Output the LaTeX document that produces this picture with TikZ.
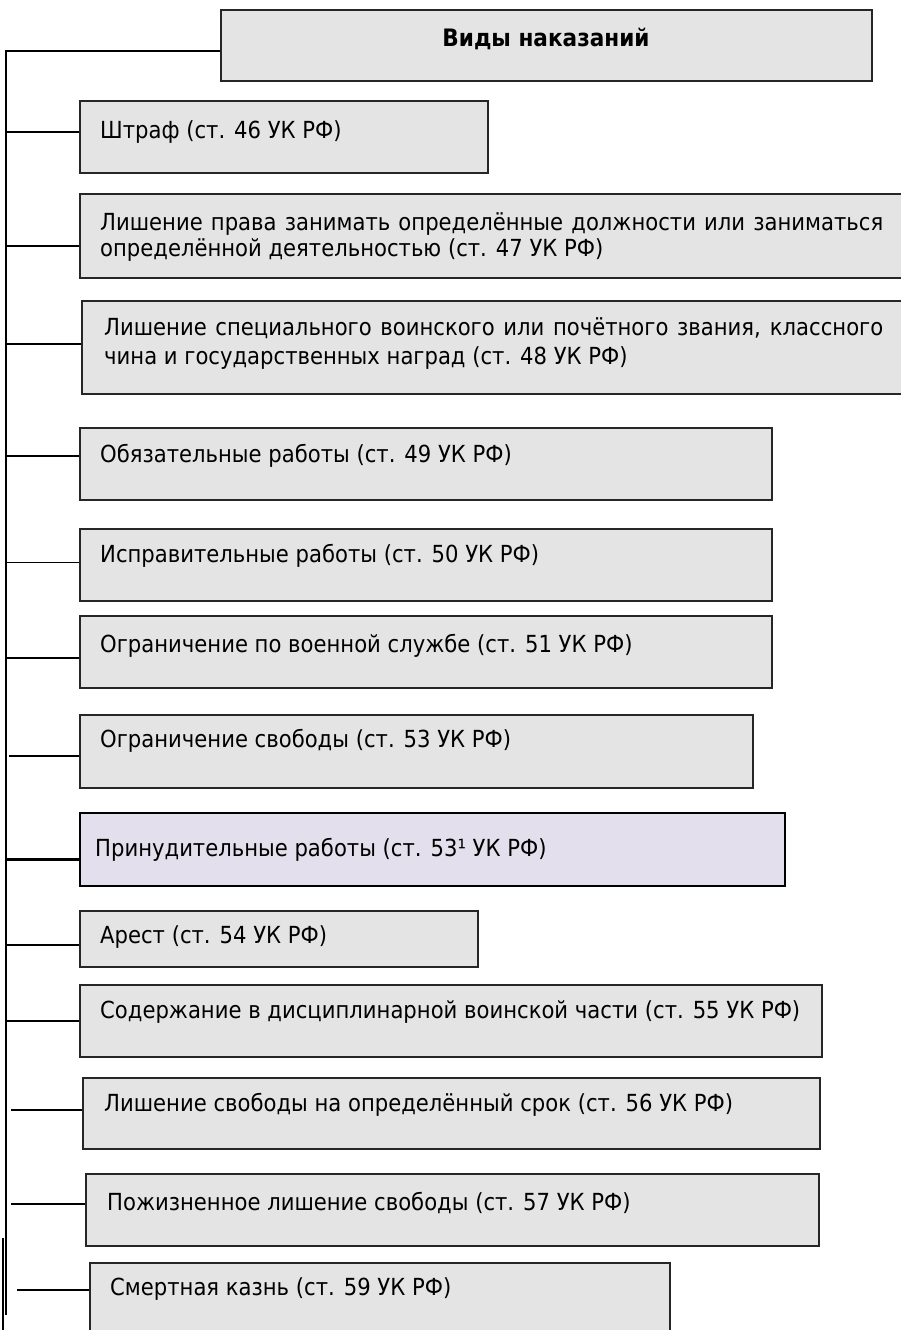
\documentclass[tikz,border=0pt]{standalone}
\usepackage{fontspec}
\setmainfont{DejaVu Sans}[FakeStretch=0.9]
\usepackage{xcolor}
\usetikzlibrary{positioning}
\definecolor{boxgray}{RGB}{228,228,228}
\definecolor{boxlilac}{RGB}{228,223,236}
\tikzset{
  kind/.style={draw=black!85,line width=1.7pt,fill=boxgray,anchor=north west,inner sep=0pt},
  kindtxt/.style={anchor=west,inner sep=0pt,font=\fontsize{23.5}{27}\selectfont},
  kindpar/.style={anchor=north west,inner sep=0pt,align=justify},
  link/.style={line width=2.3pt},
}
\begin{document}
\begin{tikzpicture}[x=1pt,y=-1pt]
\useasboundingbox (0,0) rectangle (901,1330);

% head
\node[kind,minimum width=651pt,minimum height=71pt] (title) at (220,9) {};
\node[kindtxt,anchor=center,font=\fontsize{24}{27}\selectfont\bfseries] (titletxt) at (546,39) {Виды наказаний};

% boxes
\node[kind,minimum width=408pt,minimum height=72pt] (b1) at (79,100) {};
\node[kindtxt] (t1) at (100,132) {Штраф (ст. 46 УК РФ)};
\node[kind,minimum width=824pt,minimum height=84pt] (b2) at (79,193) {};
\node[kindpar,text width=783pt,font=\fontsize{23.5}{26.5}\selectfont] (t2) at (100,212) {Лишение права занимать определённые должности или заниматься\linebreak определённой деятельностью (ст. 47 УК РФ)};
\node[kind,minimum width=822pt,minimum height=93pt] (b3) at (81,300) {};
\node[kindpar,text width=779pt,font=\fontsize{23.5}{29}\selectfont] (t3) at (104,317) {Лишение специального воинского или почётного звания, классного\linebreak чина и государственных наград (ст. 48 УК РФ)};
\node[kind,minimum width=692pt,minimum height=72pt] (b4) at (79,427) {};
\node[kindtxt] (t4) at (100,456) {Обязательные работы (ст. 49 УК РФ)};
\node[kind,minimum width=692pt,minimum height=72pt] (b5) at (79,528) {};
\node[kindtxt] (t5) at (100,556) {Исправительные работы (ст. 50 УК РФ)};
\node[kind,minimum width=692pt,minimum height=72pt] (b6) at (79,615) {};
\node[kindtxt] (t6) at (100,646) {Ограничение по военной службе (ст. 51 УК РФ)};
\node[kind,minimum width=673pt,minimum height=73pt] (b7) at (79,714) {};
\node[kindtxt] (t7) at (100,741) {Ограничение свободы (ст. 53 УК РФ)};
\node[kind,fill=boxlilac,draw=black,line width=2pt,minimum width=705pt,minimum height=73pt] (b8) at (79,812) {};
\node[kindtxt] (t8) at (95,850) {Принудительные работы (ст. 53¹ УК РФ)};
\node[kind,minimum width=398pt,minimum height=56pt] (b9) at (79,910) {};
\node[kindtxt] (t9) at (100,937) {Арест (ст. 54 УК РФ)};
\node[kind,minimum width=742pt,minimum height=72pt] (b10) at (79,984) {};
\node[kindtxt] (t10) at (100,1012) {Содержание в дисциплинарной воинской части (ст. 55 УК РФ)};
\node[kind,minimum width=737pt,minimum height=71pt] (b11) at (82,1077) {};
\node[kindtxt] (t11) at (104,1105) {Лишение свободы на определённый срок (ст. 56 УК РФ)};
\node[kind,minimum width=733pt,minimum height=72pt] (b12) at (85,1173) {};
\node[kindtxt] (t12) at (107,1203) {Пожизненное лишение свободы (ст. 57 УК РФ)};
\node[kind,minimum width=580pt,minimum height=78pt] (b13) at (89,1262) {};
\node[kindtxt] (t13) at (110,1289) {Смертная казнь (ст. 59 УК РФ)};

% spine
\coordinate (bot) at (6,1315);
\coordinate (stub) at (3,1238);
\coordinate (stubend) at (3,1330);
\draw[line width=1.4pt] ([yshift=-5.5pt]title.west) -| (bot);
\draw[link] (6,250) -- (bot);
\draw[link] (stub) -- (stubend);

% branches
\draw[link] ([yshift=5pt]b1.west) -- ([yshift=5pt]b1.west -| bot);
\draw[link] ([yshift=-10pt]b2.west) -- ([yshift=-10pt]b2.west -| bot);
\draw[link] ([yshift=3.5pt]b3.west) -- ([yshift=3.5pt]b3.west -| bot);
\draw[link] ([yshift=8pt]b4.west) -- ([yshift=8pt]b4.west -| bot);
\draw[line width=1.2pt] ([yshift=2pt]b5.west) -- ([yshift=2pt]b5.west -| bot);
\draw[link] ([yshift=-6pt]b6.west) -- ([yshift=-6pt]b6.west -| bot);
\draw[link,shorten >=3pt] ([yshift=-4.5pt]b7.west) -- ([yshift=-4.5pt]b7.west -| bot);
\draw[link] ([yshift=-10pt]b8.west) -- ([yshift=-10pt]b8.west -| bot);
\draw[link] ([yshift=-6pt]b9.west) -- ([yshift=-6pt]b9.west -| bot);
\draw[link] (b10.west) -- (b10.west -| bot);
\draw[link,shorten >=5pt] ([yshift=3.5pt]b11.west) -- ([yshift=3.5pt]b11.west -| bot);
\draw[link,shorten >=5pt] ([yshift=6pt]b12.west) -- ([yshift=6pt]b12.west -| bot);
\draw[link,shorten >=11pt] ([yshift=12pt]b13.west) -- ([yshift=12pt]b13.west -| bot);
\end{tikzpicture}
\end{document}
